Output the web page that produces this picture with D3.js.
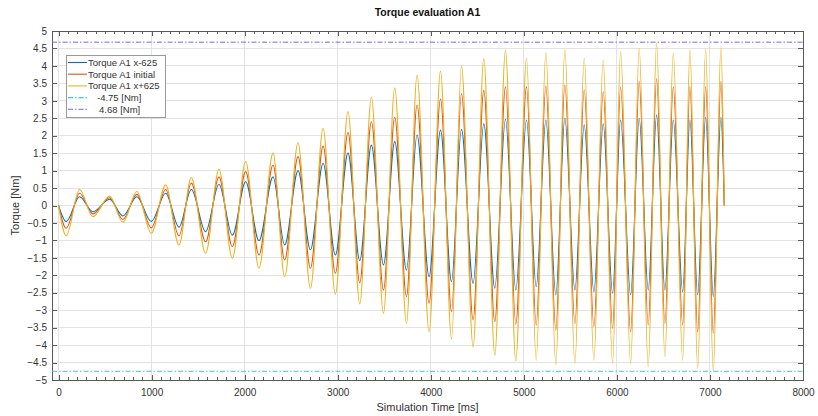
<!DOCTYPE html>
<html>
<head>
<meta charset="utf-8">
<script src="https://cdn.jsdelivr.net/npm/d3@7"></script>
<style>
  html, body { margin: 0; padding: 0; background: #fff; }
  svg { display: block; }
  text { font-family: "Liberation Sans", Arial, Helvetica, sans-serif; }
</style>
</head>
<body>
<svg id="chart" width="818" height="416"></svg>
<script>
// ---- data (extrema of each oscillation) ----
const timeMs = [0, 83, 226, 369, 549, 692, 842, 997, 1151, 1294, 1427, 1581, 1724, 1868, 2011, 2154, 2305, 2430, 2574, 2707, 2843, 2975, 3111, 3237, 3362, 3492, 3613, 3739, 3853, 3982, 4105, 4223, 4330, 4455, 4570, 4688, 4803, 4914, 5029, 5133, 5237, 5344, 5441, 5549, 5649, 5753, 5853, 5954, 6040, 6148, 6240, 6337, 6427, 6516, 6606, 6707, 6785, 6868, 6954, 7036, 7118, 7154];
const torqueMinus625 = [0, -0.46, 0.25, -0.18, 0.18, -0.30, 0.25, -0.46, 0.35, -0.62, 0.46, -0.75, 0.61, -0.85, 0.68, -1.01, 0.82, -1.13, 1.00, -1.27, 1.21, -1.42, 1.50, -1.58, 1.73, -1.70, 1.83, -1.85, 2.02, -2.04, 2.16, -2.18, 2.18, -2.23, 2.34, -2.37, 2.47, -2.42, 2.45, -2.33, 2.45, -2.56, 2.50, -2.42, 2.31, -2.47, 2.34, -2.52, 2.45, -2.56, 2.50, -2.42, 2.59, -2.42, 2.45, -2.47, 2.45, -2.56, 2.53, -2.61, 2.53, 0];
const torqueInitial = [0, -0.65, 0.35, -0.24, 0.22, -0.40, 0.32, -0.64, 0.46, -0.87, 0.64, -1.04, 0.82, -1.18, 0.97, -1.42, 1.16, -1.56, 1.40, -1.80, 1.70, -1.94, 2.09, -2.21, 2.40, -2.42, 2.53, -2.61, 2.88, -2.80, 3.05, -3.04, 3.20, -3.28, 3.30, -3.33, 3.40, -3.40, 3.40, -3.42, 3.42, -3.57, 3.45, -3.38, 3.31, -3.47, 3.26, -3.52, 3.39, -3.62, 3.55, -3.42, 3.64, -3.38, 3.40, -3.42, 3.40, -3.62, 3.40, -3.66, 3.55, 0];
const torquePlus625 = [0, -0.87, 0.46, -0.32, 0.27, -0.48, 0.40, -0.80, 0.59, -1.13, 0.80, -1.37, 1.04, -1.51, 1.26, -1.80, 1.50, -2.04, 1.80, -2.37, 2.21, -2.54, 2.69, -2.82, 3.10, -3.09, 3.37, -3.38, 3.74, -3.62, 3.85, -3.83, 4.00, -4.05, 4.20, -4.30, 4.45, -4.45, 4.22, -4.43, 4.38, -4.57, 4.46, -4.52, 4.22, -4.43, 4.17, -4.52, 4.41, -4.52, 4.50, -4.62, 4.65, -4.33, 4.36, -4.43, 4.46, -4.67, 4.48, -4.76, 4.55, 0];
const limitLow = -4.75;
const limitHigh = 4.68;
const seriesNames = ["Torque A1 x-625", "Torque A1 initial", "Torque A1 x+625"];
const limitNames = ["-4.75 [Nm]", "4.68 [Nm]"];
const xTicks = [0, 1000, 2000, 3000, 4000, 5000, 6000, 7000, 8000];
const yTicks = [-5, -4.5, -4, -3.5, -3, -2.5, -2, -1.5, -1, -0.5, 0, 0.5, 1, 1.5, 2, 2.5, 3, 3.5, 4, 4.5, 5];

// ---- styling ----
const seriesColors = ["#0072BD", "#D95319", "#EDB120"];
const lowColor = "#3cc8de";
const highColor = "#7569e0";
const axisColor = "#5a5a5a";
const gridColor = "#e3e3e3";
const textColor = "#333333";

const L = 52, R = 803, T = 31, B = 380;
const svg = d3.select("#chart");

const x = d3.scaleLinear().domain([-70, 8000]).range([L, R]);
const y = d3.scaleLinear().domain([-5, 5]).range([B, T]);

// grid
const g = svg.append("g");
g.selectAll(".vg").data(xTicks).enter().append("line")
  .attr("x1", d => x(d)).attr("x2", d => x(d)).attr("y1", T).attr("y2", B)
  .attr("stroke", gridColor).attr("stroke-width", 1).attr("shape-rendering", "crispEdges");
g.selectAll(".hg").data(yTicks).enter().append("line")
  .attr("x1", L).attr("x2", R).attr("y1", d => y(d)).attr("y2", d => y(d))
  .attr("stroke", gridColor).attr("stroke-width", 1).attr("shape-rendering", "crispEdges");

// minor x ticks (every 100 ms)
const minorX = d3.range(0, 8001, 100).filter(v => v % 1000 !== 0);

// axes with inward ticks
const xAxisB = d3.axisBottom(x).tickValues(xTicks).tickSize(-5).tickPadding(9).tickFormat(d3.format("d"));
const xAxisT = d3.axisTop(x).tickValues(xTicks).tickSize(-5).tickFormat("");
const yAxisL = d3.axisLeft(y).tickValues(yTicks).tickSize(-5).tickPadding(5).tickFormat(d => d3.format("")(d));
const yAxisR = d3.axisRight(y).tickValues(yTicks).tickSize(-5).tickFormat("");
const xMinB = d3.axisBottom(x).tickValues(minorX).tickSize(-3).tickFormat("");
const xMinT = d3.axisTop(x).tickValues(minorX).tickSize(-3).tickFormat("");

function styleAxis(sel) {
  sel.select(".domain").remove();
  sel.selectAll("line").attr("stroke", axisColor).attr("shape-rendering", "crispEdges");
  sel.selectAll("text").attr("fill", textColor).attr("font-size", "10px")
    .attr("font-family", "'Liberation Sans', Arial, sans-serif");
}
svg.append("g").attr("transform", `translate(0,${B})`).call(xAxisB).call(styleAxis);
svg.append("g").attr("transform", `translate(0,${T})`).call(xAxisT).call(styleAxis);
svg.append("g").attr("transform", `translate(0,${B})`).call(xMinB).call(styleAxis);
svg.append("g").attr("transform", `translate(0,${T})`).call(xMinT).call(styleAxis);
svg.append("g").attr("transform", `translate(${L},0)`).call(yAxisL).call(styleAxis);
svg.append("g").attr("transform", `translate(${R},0)`).call(yAxisR).call(styleAxis);

// frame
svg.append("rect").attr("x", L).attr("y", T).attr("width", R - L).attr("height", B - T)
  .attr("fill", "none").attr("stroke", axisColor).attr("stroke-width", 1).attr("shape-rendering", "crispEdges");

// series lines
const seriesData = [torqueMinus625, torqueInitial, torquePlus625];
const line = d3.line().x(d => x(d[0])).y(d => y(d[1])).curve(d3.curveMonotoneX);
const clip = svg.append("clipPath").attr("id", "clip").append("rect")
  .attr("x", L).attr("y", T).attr("width", R - L).attr("height", B - T);
const plot = svg.append("g").attr("clip-path", "url(#clip)");
seriesData.forEach((vals, i) => {
  plot.append("path")
    .datum(timeMs.map((t, k) => [t, vals[k]]))
    .attr("d", line)
    .attr("fill", "none")
    .attr("stroke", seriesColors[i])
    .attr("stroke-width", 1.1)
    .attr("stroke-linejoin", "round");
});

// limit lines
const dashDot = "5,2,1.5,2";
[[limitLow, lowColor], [limitHigh, highColor]].forEach(([v, c]) => {
  plot.append("line")
    .attr("x1", L).attr("x2", R).attr("y1", y(v)).attr("y2", y(v))
    .attr("stroke", c).attr("stroke-width", 1).attr("stroke-dasharray", dashDot);
});

// legend
const lg = svg.append("g");
lg.append("rect").attr("x", 66.5).attr("y", 55.5).attr("width", 99).attr("height", 62)
  .attr("fill", "#fff").attr("stroke", "#9a9a9a").attr("stroke-width", 1);
const legendItems = [
  { name: seriesNames[0], color: seriesColors[0], dash: null, tx: 88 },
  { name: seriesNames[1], color: seriesColors[1], dash: null, tx: 88 },
  { name: seriesNames[2], color: seriesColors[2], dash: null, tx: 88 },
  { name: limitNames[0], color: lowColor, dash: dashDot, tx: 97 },
  { name: limitNames[1], color: highColor, dash: dashDot, tx: 99 }
];
legendItems.forEach((it, i) => {
  const yy = 62.5 + i * 11.7;
  lg.append("line").attr("x1", 68).attr("x2", 87).attr("y1", yy).attr("y2", yy)
    .attr("stroke", it.color).attr("stroke-width", 1.1)
    .attr("stroke-dasharray", it.dash);
  lg.append("text").attr("x", it.tx).attr("y", yy).attr("dy", "0.35em")
    .attr("font-size", "9.5px").attr("fill", textColor).text(it.name);
});

// title and labels
svg.append("text").attr("x", (L + R) / 2).attr("y", 16).attr("text-anchor", "middle")
  .attr("font-size", "10.5px").attr("font-weight", "bold").attr("fill", "#111")
  .text("Torque evaluation A1");
svg.append("text").attr("x", (L + R) / 2).attr("y", 411).attr("text-anchor", "middle")
  .attr("font-size", "11px").attr("fill", textColor).text("Simulation Time [ms]");
svg.append("text").attr("transform", `translate(19,${(T + B) / 2}) rotate(-90)`)
  .attr("text-anchor", "middle").attr("font-size", "11px").attr("fill", textColor)
  .text("Torque [Nm]");
</script>
</body>
</html>
